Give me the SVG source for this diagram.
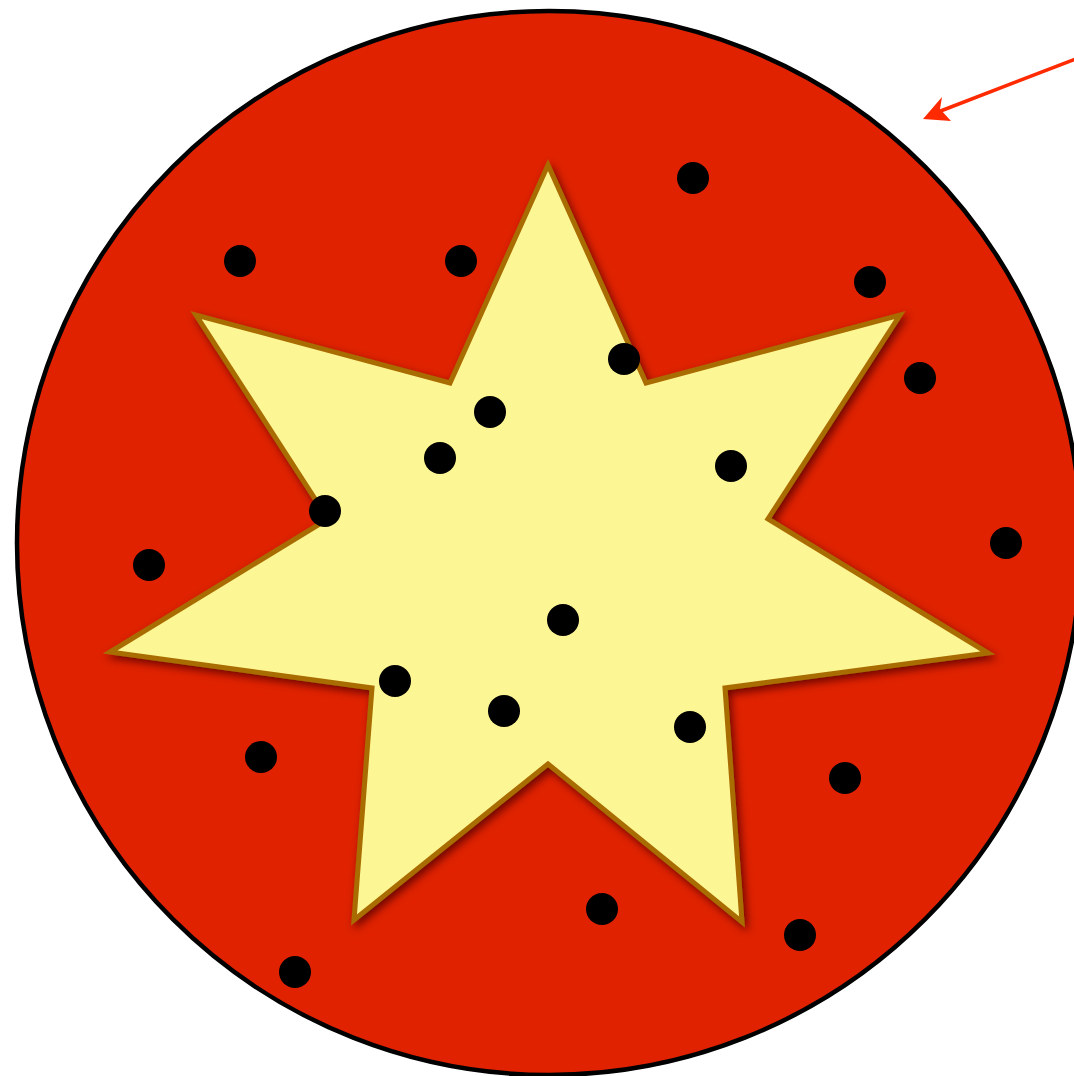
<svg xmlns="http://www.w3.org/2000/svg" width="1074" height="1076" viewBox="0 0 1074 1076">
<defs>
<filter id="sh" x="-10%" y="-10%" width="120%" height="120%">
<feGaussianBlur in="SourceAlpha" stdDeviation="4"/>
<feOffset dx="3" dy="4" result="b"/>
<feFlood flood-color="#5a0000" flood-opacity="0.85"/>
<feComposite in2="b" operator="in"/>
<feMerge><feMergeNode/><feMergeNode in="SourceGraphic"/></feMerge>
</filter>
</defs>
<style>
.dot{fill:#000}
</style>
<rect width="1074" height="1076" fill="#fff"/>
<g id="disk">
<circle cx="549" cy="543" r="532" fill="#e02200" stroke="#000" stroke-width="4.5"/>
</g>
<g id="star">
<polygon points="548,165 646,383 900,315 768,519 988,653 725,688 742,922 548,764 354,920 372,688 110,652 328,519 196,315 450,383" fill="#fdf694" stroke="#a86c00" stroke-width="5" stroke-linejoin="miter" filter="url(#sh)"/>
</g>
<g id="dots">
<circle class="dot" cx="693" cy="178" r="16"/>
<circle class="dot" cx="240" cy="261" r="16"/>
<circle class="dot" cx="461" cy="261" r="16"/>
<circle class="dot" cx="870" cy="282" r="16"/>
<circle class="dot" cx="624" cy="359" r="16"/>
<circle class="dot" cx="920" cy="378" r="16"/>
<circle class="dot" cx="490" cy="412" r="16"/>
<circle class="dot" cx="440" cy="458" r="16"/>
<circle class="dot" cx="731" cy="466" r="16"/>
<circle class="dot" cx="325" cy="511" r="16"/>
<circle class="dot" cx="1006" cy="543" r="16"/>
<circle class="dot" cx="149" cy="565" r="16"/>
<circle class="dot" cx="563" cy="620" r="16"/>
<circle class="dot" cx="395" cy="681" r="16"/>
<circle class="dot" cx="504" cy="711" r="16"/>
<circle class="dot" cx="690" cy="727" r="16"/>
<circle class="dot" cx="261" cy="757" r="16"/>
<circle class="dot" cx="845" cy="778" r="16"/>
<circle class="dot" cx="602" cy="909" r="16"/>
<circle class="dot" cx="800" cy="935" r="16"/>
<circle class="dot" cx="295" cy="972" r="16"/>
</g>
<g id="connectors">
<line x1="1078" y1="58" x2="938" y2="112" stroke="#ff2a00" stroke-width="3.5"/>
<polygon points="923,119 942,97 940,109 951,121" fill="#ff2a00"/>
</g>
</svg>
